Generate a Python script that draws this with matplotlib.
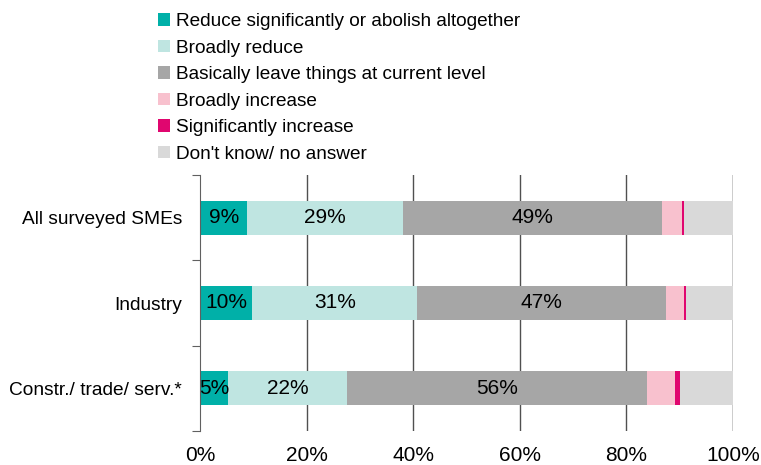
import numpy as np
import matplotlib.pyplot as plt
from matplotlib.patches import Patch

plt.rcParams['font.family'] = ['Liberation Sans', 'DejaVu Sans']

# Data
categories = ['All surveyed SMEs', 'Industry', 'Constr./ trade/ serv.*']
answers = ['Reduce significantly or abolish altogether', 'Broadly reduce',
           'Basically leave things at current level', 'Broadly increase',
           'Significantly increase', "Don't know/ no answer"]
reduce_sig = [8.9, 9.8, 5.3]
reduce_broad = [29.1, 31.0, 22.3]
leave = [48.6, 46.6, 56.2]
increase_broad = [3.8, 3.4, 5.4]
increase_sig = [0.5, 0.45, 0.8]
dont_know = [9.1, 8.75, 10.0]
x_ticks = [0, 20, 40, 60, 80, 100]
x_labels = ['0%', '20%', '40%', '60%', '80%', '100%']

colors = ['#00B0A8', '#BFE5E1', '#A6A6A6', '#F8C1CE', '#E0066F', '#D9D9D9']
series = [reduce_sig, reduce_broad, leave, increase_broad, increase_sig, dont_know]
labelled = [True, True, True, False, False, False]

fig = plt.figure(figsize=(7.61, 4.65), dpi=100)
ax = fig.add_axes([200 / 761, 34 / 465, 533 / 761, 256 / 465])

y = np.arange(len(categories))
left = np.zeros(len(categories))
for vals, col, lab in zip(series, colors, labelled):
    vals = np.array(vals)
    ax.barh(y, vals, left=left, height=0.4, color=col, zorder=2)
    if lab:
        for yi, l, v in zip(y, left, vals):
            ax.text(l + v / 2, yi, f'{round(v):.0f}%', ha='center', va='center',
                    fontsize=15, color='black', zorder=3)
    left += vals

ax.set_xlim(0, 100)
ax.set_ylim(2.5, -0.5)

# gridlines
for xt in x_ticks[1:]:
    ax.axvline(xt, color='#000000' if xt == 100 else '#505050', lw=1, zorder=1)

ax.set_xticks(x_ticks)
ax.set_xticklabels(x_labels, fontsize=15)
ax.tick_params(axis='x', length=0, pad=11)

ax.set_yticks([-0.5, 0.5, 1.5, 2.5])
ax.set_yticklabels([])
ax.tick_params(axis='y', which='major', length=6, color='#606060', direction='out')
ax.set_yticks(y, minor=True)
ax.set_yticklabels(categories, minor=True, fontsize=13.8)
ax.tick_params(axis='y', which='minor', length=0, pad=13)

for s in ['top', 'right', 'bottom']:
    ax.spines[s].set_visible(False)
ax.spines['left'].set_color('#606060')
ax.spines['left'].set_zorder(4)

handles = [Patch(facecolor=c, edgecolor='none') for c in colors]
fig.legend(handles, answers, loc='upper left', bbox_to_anchor=(158 / 761, 1 - 13 / 465),
           frameon=False, fontsize=13.7, handlelength=0.65, handleheight=0.65,
           handletextpad=0.3, labelspacing=0.5, borderaxespad=0, borderpad=0)

fig.savefig('out.png', dpi=100)
